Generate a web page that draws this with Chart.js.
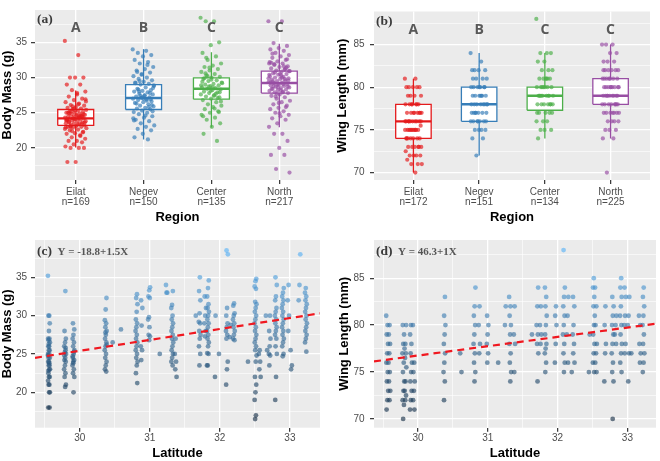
<!DOCTYPE html>
<html lang="en">
<head>
<meta charset="UTF-8">
<title>Body mass and wing length by region and latitude</title>
<script src="https://cdn.jsdelivr.net/npm/chart.js"></script>
<style>
  body { margin: 0; background: #fff; }
  .wrap { position: relative; width: 660px; height: 461px; }
  canvas { position: absolute; }
</style>
</head>
<body>
<div class="wrap">
  <canvas id="cA" width="330" height="225" style="left:0;top:0"></canvas>
  <canvas id="cB" width="330" height="225" style="left:330px;top:0"></canvas>
  <canvas id="cC" width="330" height="236" style="left:0;top:225px"></canvas>
  <canvas id="cD" width="330" height="236" style="left:330px;top:225px"></canvas>
</div>
<script>
// ---- data ----
const regions = ['Eilat', 'Negev', 'Center', 'North'];
const regionColors = ['#E41A1C', '#377EB8', '#4DAF4A', '#984EA3'];
const nMass = [169, 150, 135, 217];
const nWing = [172, 151, 134, 225];
const lettersMass = ['A', 'B', 'C', 'C'];
const lettersWing = ['A', 'B', 'C', 'C'];

// box stats: [lower whisker, Q1, median, Q3, upper whisker]
const massBox = [[20.05, 23.2, 24.2, 25.46, 28.17], [21.2, 25.46, 27.1, 29.0, 34.04], [22.9, 26.93, 28.4, 29.95, 33.6], [22.95, 27.8, 29.22, 30.92, 34.82]];
const wingBox = [[70, 74, 76, 78, 81], [72, 76, 78, 80, 84], [74, 77.3, 79, 80, 84], [74, 78, 79, 81, 85]];

const massEilat = [35.2, 33.2, 30, 30, 30, 29, 29, 28.2, 28, 27.6, 27.3, 27, 26.8, 26.5, 26.3, 26.1, 26, 25.8, 25.7, 25.6, 25.5, 25.4, 25.3, 25.2, 25.1, 25, 25, 24.9, 24.8, 24.7, 24.6, 24.5, 24.5, 24.4, 24.3, 24.3, 24.2, 24.2, 24.1, 24, 24, 23.9, 23.8, 23.8, 23.7, 23.6, 23.5, 23.5, 23.4, 23.3, 23.2, 23.1, 23, 23, 22.9, 22.8, 22.6, 22.5, 22.3, 22.1, 22, 21.8, 21.5, 21.3, 21, 21, 20.8, 20.5, 20.2, 20, 20, 20, 18, 18, 24.6, 25.9, 26.6, 23.3, 24.9, 22.2,
  24.1, 23.9, 24.4, 25.2, 23.6, 24.7, 25.0, 23.4, 24.2, 22.7, 26.2, 23.1, 24.8, 25.3, 24.0, 21.7, 22.4, 26.9, 27.8, 23.7, 24.5, 25.6, 22.9, 24.3, 23.0];
const massNegev = [34, 33.8, 33.5, 33.2, 33, 32.5, 32.2, 32, 31.5, 31.2, 31, 30.7, 30.5, 30.2, 30, 29.8, 29.6, 29.4, 29.2, 29.1, 29, 28.8, 28.6, 28.4, 28.2, 28.1, 28, 27.9, 27.7, 27.6, 27.4, 27.3, 27.2, 27.1, 27, 26.9, 26.8, 26.6, 26.5, 26.4, 26.2, 26, 25.9, 25.7, 25.6, 25.5, 25.3, 25.1, 25, 24.8, 24.5, 24.3, 24, 23.8, 23.5, 23.2, 23, 22.7, 22.5, 22, 21.5, 21.2, 29.5, 28.5, 27.5, 26.3, 27.8, 30.4, 24.2, 26.7,
  28.3, 26.1, 27.0, 29.3, 25.8, 27.4, 28.9, 24.6, 30.8, 26.9, 27.2, 23.9, 31.8, 28.0, 25.2];
const massCenter = [38.5, 38, 38, 35, 34.6, 33.5, 33, 32.5, 32, 31.7, 31.5, 31.2, 31, 30.8, 30.5, 30.3, 30.1, 30, 29.8, 29.6, 29.5, 29.3, 29.1, 29, 28.9, 28.8, 28.6, 28.5, 28.4, 28.3, 28.2, 28, 27.9, 27.8, 27.6, 27.5, 27.3, 27.2, 27, 26.8, 26.5, 26.2, 26, 25.8, 25.5, 25.2, 25, 24.7, 24.3, 24, 23.5, 23, 22, 21, 28.7, 29.2, 27.4, 30.6, 25.1,
  28.1, 29.4, 27.7, 30.2, 26.6, 28.6, 29.9, 27.1, 31.4, 28.9, 25.6, 32.8, 27.9, 29.7, 24.5];
const massNorth = [38, 38, 34.9, 34.5, 34.2, 34, 33.8, 33.5, 33.2, 33, 32.8, 32.5, 32.3, 32, 32, 31.8, 31.6, 31.5, 31.3, 31.1, 31, 30.9, 30.8, 30.6, 30.5, 30.4, 30.2, 30.1, 30, 29.9, 29.8, 29.7, 29.6, 29.5, 29.4, 29.3, 29.2, 29.1, 29, 28.9, 28.8, 28.7, 28.6, 28.5, 28.4, 28.3, 28.2, 28.1, 28, 27.9, 27.8, 27.6, 27.4, 27.2, 27, 26.7, 26.5, 26.2, 26, 25.7, 25.5, 25.2, 25, 24.7, 24.5, 24.2, 24, 23.5, 23, 22, 22, 21, 20, 19, 19, 17, 16.5, 30.3, 29.45, 31.4, 28.6, 32.2, 29.05, 30.7,
  29.6, 30.5, 28.4, 31.2, 27.7, 29.9, 30.0, 28.8, 32.6, 26.4, 29.3, 31.6, 27.3, 30.9, 28.2, 33.4, 25.8, 29.0, 30.4, 27.9, 31.9, 28.7, 24.9, 32.1, 29.8];

const wingEilat = [81, 81, 80, 80, 80, 80, 80, 79, 79, 79, 79, 78, 78, 78, 78, 78, 77, 77, 77, 77, 77, 77, 76, 76, 76, 76, 76, 76, 76, 75.5, 75, 75, 75, 75, 75, 75, 75, 74, 74, 74, 74, 74, 73, 73, 73, 73, 73, 72.5, 72, 72, 72, 72, 71.5, 71, 71, 71, 70, 76, 77, 75, 74, 78, 75, 76, 77, 74, 73, 78, 76, 75];
const wingNegev = [84, 83, 82, 82, 82, 82, 81, 81, 81, 80, 80, 80, 80, 80, 79, 79, 79, 79, 79, 78, 78, 78, 78, 78, 78, 77, 77, 77, 77, 77, 76, 76, 76, 76, 76, 75, 75, 75, 75, 74, 74, 72, 78, 79, 77, 80, 76, 78, 79, 77, 76, 80, 81];
const wingCenter = [88, 84, 84, 84, 83, 83, 82, 82, 82, 81, 81, 81, 81, 80, 80, 80, 80, 80, 79, 79, 79, 79, 79, 79, 78, 78, 78, 78, 78, 77, 77, 77, 77, 76, 76, 76, 75, 75, 75, 74, 79, 80, 78, 81, 79, 78, 80, 77, 81, 79];
const wingNorth = [85, 85, 85, 84, 84, 83, 83, 83, 82, 82, 82, 82, 81, 81, 81, 81, 81, 80, 80, 80, 80, 80, 80, 79, 79, 79, 79, 79, 79, 78, 78, 78, 78, 78, 78, 77, 77, 77, 77, 77, 76, 76, 76, 76, 75, 75, 75, 74, 74, 70, 79, 80, 81, 78, 82, 77, 79, 80, 78, 81, 82, 77, 79, 80];

// latitude columns and the body-mass values at each
const latMass = [29.56, 29.79, 29.91, 30.37, 30.47, 30.6, 30.81, 30.88, 30.99, 31.14, 31.24, 31.32, 31.37, 31.67, 31.71, 31.79, 31.83, 31.93, 31.95, 31.98, 32.1, 32.14, 32.2, 32.41, 32.51, 32.57, 32.67, 32.71, 32.8, 32.9, 32.98, 33.02, 33.14, 33.23];
const massAtLat = [
  [35.2, 30, 30, 29, 28, 27, 27, 26.8, 26.5, 26, 26, 25.5, 25.5, 25, 25, 24.5, 24.5, 24, 24, 23.5, 23.5, 23, 23, 22.5, 22, 22, 21.5, 21, 21, 20, 20, 18, 18, 26.3, 24.8, 23.8, 22.8],
  [33.2, 28, 27, 26.5, 26, 25.5, 25.2, 25, 24.5, 24.2, 24, 23.5, 23, 22.5, 22, 21, 20.7, 24.8, 25.8],
  [29, 28.2, 27.5, 27, 26.5, 26, 25.5, 25, 24.5, 24.2, 24, 23.5, 23, 22.5, 22, 20, 24.7, 25.3, 23.8],
  [32.3, 30.8, 29.4, 29, 28.5, 28, 27.5, 27, 26.5, 26, 25.5, 25, 24.5, 24, 23.5, 23, 22.7, 27.8, 26.2],
  [26.5],
  [28.2],
  [32.8, 32.3, 31.5, 30.5, 29.5, 29, 28.5, 28, 27.5, 27, 26.5, 26, 25.5, 25, 24.5, 24, 23.5, 22.5, 21.2],
  [32, 31, 28.7, 26, 25.5, 24.2],
  [33.7, 33.3, 32.5, 32.3, 29.8, 29.5, 28.5, 27.5, 27.3, 26.8],
  [25],
  [34, 33, 33],
  [33.2, 31.4, 31, 30, 29.5, 29, 28.5, 28, 27.5, 27, 26.5, 26, 25.5, 25, 24.5, 24, 23.5],
  [27, 25, 24, 23, 22],
  [30],
  [35, 33.2, 32, 30.3, 29.2, 29, 28, 27.5, 27, 26, 25, 23.5],
  [32.5, 31, 30, 29, 28, 27.3],
  [34.6, 33.6, 32.5, 31.5, 31, 30.5, 30, 29.5, 29, 28.5, 28, 27.5, 27, 26.5, 26, 25.1, 25, 23.5, 23.5],
  [22],
  [30],
  [25],
  [38.5, 38, 31, 30, 29, 28.5, 28, 27.5, 27, 24, 23, 21],
  [28.8, 27.2],
  [31.6, 31.3, 30.3, 30, 29.5, 29, 28.5, 28, 27.5, 27, 26.8],
  [24],
  [34.8, 34.5, 33.8, 33.5, 31.8, 31.5, 31, 30.5, 30, 29.5, 29, 28.5, 28, 27.5, 27, 26.5, 26, 25.5, 24.8, 24, 22, 21, 20, 19, 17, 16.5],
  [25.5, 25, 24, 23, 22],
  [30, 25.5],
  [30, 28, 27, 26, 25, 24.8, 23.5],
  [35, 34, 32.5, 32, 31, 30.5, 30, 29.5, 29, 28.5, 28, 27.5, 27, 26, 25, 22, 19],
  [33.6, 33, 32.5, 32, 31.5, 31, 30.5, 30, 29.5, 29, 28.5, 28, 27.5, 27, 26.5, 26, 25, 24.7],
  [34, 32, 30, 28],
  [25.5, 23.5, 23],
  [38, 34, 32],
  [33.6, 33, 32.5, 32, 31.5, 31, 30.5, 30, 29.5, 29, 28.5, 28, 27.5, 27, 26.5, 25.3]
];

// latitude columns and the wing-length values at each
const latWing = [29.56, 29.59, 29.79, 29.82, 29.9, 29.94, 30.38, 30.61, 30.81, 30.88, 31.0, 31.14, 31.26, 31.32, 31.38, 31.64, 31.71, 31.76, 31.83, 31.97, 32.09, 32.14, 32.2, 32.23, 32.45, 32.52, 32.55, 32.68, 32.79, 32.83, 32.91, 32.97, 33.02, 33.06, 33.18, 33.23];
const wingAtLat = [
  [81, 80, 79, 78, 77, 76, 75, 74, 73, 72, 71],
  [80, 79, 78, 77, 76, 75, 74, 73, 72],
  [80, 79, 78, 77, 76, 75, 74, 73, 72, 71.5, 70],
  [80, 78, 77.5, 77, 76.5, 75.5, 74, 73, 72.5, 72],
  [80, 79, 78, 77, 76, 75, 74, 73, 72, 71],
  [80, 76, 75, 74, 73, 72, 71],
  [83, 81, 80, 79, 78, 77, 76, 75, 74, 72],
  [77, 75],
  [84, 82, 81, 80, 79, 78, 77, 76, 75, 74],
  [82, 80, 78, 77],
  [81, 80, 79, 78, 77, 76],
  [76],
  [82, 80],
  [83, 82, 81, 80, 79, 78, 77, 76, 75, 74],
  [82, 79, 78, 75],
  [79],
  [84, 82, 80, 79, 78, 77, 74],
  [82, 80, 79, 78],
  [84, 83, 82, 81, 80, 79, 78, 77.5, 77, 76, 75],
  [82, 81, 80, 78, 76],
  [88, 84, 83, 82, 81, 80, 79, 78, 77, 76, 75],
  [83, 81, 79, 76],
  [75],
  [83, 82, 80, 79, 78, 77, 76],
  [79, 75],
  [85, 84, 83, 82, 81, 80, 79, 78, 77, 76, 75],
  [84, 82, 80, 78, 77, 76, 75],
  [82, 80, 78, 77, 74],
  [83, 82, 81, 80, 79, 78, 77, 76, 75, 74, 70],
  [81, 80, 79, 78],
  [85, 84, 83, 82, 81, 80, 79, 78, 77, 76, 75],
  [84, 83, 81, 80, 78, 77],
  [83, 81, 80, 77, 74],
  [77],
  [81, 80, 78, 77, 76],
  [84, 83, 82, 81, 80, 79, 78, 77, 76, 75]
];

// regression lines as drawn: [intercept, slope]
const fitMass = [-17.34, 1.425];
const fitWing = [46.97, 0.993];
const eqMass = 'Y = -18.8+1.5X';
const eqWing = 'Y = 46.3+1X';

// tick values
const massMajor = [20, 25, 30, 35];
const massMinor = [17.5, 22.5, 27.5, 32.5, 37.5];
const wingMajor = [70, 75, 80, 85];
const wingMinor = [72.5, 77.5, 82.5, 87.5];
const latMajor = [30, 31, 32, 33];
const latMinor = [29.5, 30.5, 31.5, 32.5];

// ---- helpers ----
Chart.defaults.font.family = '"Liberation Sans", Arial, sans-serif';
Chart.defaults.color = '#4D4D4D';

function rgba(hex, a) {
  const n = parseInt(hex.slice(1), 16);
  return `rgba(${n >> 16},${(n >> 8) & 255},${n & 255},${a})`;
}
function blueScale(v, lo, hi, a) {
  const t = Math.min(1, Math.max(0, (v - lo) / (hi - lo)));
  const c0 = [19, 43, 67], c1 = [86, 177, 247];
  return `rgba(${c0.map((c, i) => Math.round(c + (c1[i] - c) * t)).join(',')},${a})`;
}
// spread points sideways in a fixed pattern (display only)
const spread = k => ((k * 0.6180339887) % 1) - 0.5;

const panelBg = {
  id: 'panelBg',
  beforeDraw(chart) {
    const { ctx, chartArea: a } = chart;
    ctx.save();
    ctx.fillStyle = '#EBEBEB';
    ctx.fillRect(a.left, a.top, a.right - a.left, a.bottom - a.top);
    ctx.restore();
  }
};

const tags = {
  id: 'tags',
  afterDatasetsDraw(chart, args, o) {
    const { ctx, chartArea: a, scales: { x, y } } = chart;
    ctx.save();
    ctx.textBaseline = 'middle';
    ctx.textAlign = 'left';
    ctx.fillStyle = '#3a3a3a';
    ctx.font = 'bold 13.5px "Liberation Serif", serif';
    ctx.fillText(o.tag, a.left + 2, a.top + o.tagDy);
    if (o.eq) {
      const w = ctx.measureText(o.tag).width;
      ctx.font = 'bold 11px "Liberation Serif", serif';
      ctx.fillStyle = '#555555';
      ctx.fillText(o.eq, a.left + 2 + w + 5.5, a.top + o.tagDy);
    }
    if (o.letters) {
      ctx.font = 'bold 14px "Open Sans", sans-serif';
      ctx.fillStyle = '#595959';
      ctx.textAlign = 'center';
      o.letters.forEach((t, i) => ctx.fillText(t, x.getPixelForValue(i + 1), y.getPixelForValue(o.letterY)));
    }
    ctx.restore();
  }
};

function yAxis(o) {
  const all = o.major.concat(o.minor).sort((a, b) => a - b);
  return {
    type: 'linear', position: 'left', min: o.min, max: o.max,
    afterBuildTicks: s => { s.ticks = all.map(v => ({ value: v })); },
    afterFit: s => { s.width = o.width; },
    ticks: { font: { size: 10 }, color: '#4D4D4D', padding: o.pad, callback: v => o.major.includes(v) ? String(v) : '' },
    grid: {
      color: '#FFFFFF',
      lineWidth: c => o.major.includes(c.tick.value) ? 1.3 : 0.6,
      tickColor: c => o.major.includes(c.tick.value) ? '#333333' : 'rgba(0,0,0,0)',
      tickLength: 4, tickWidth: 1.2
    },
    border: { display: false },
    title: { display: true, text: o.title, color: '#000', font: { size: 13, weight: 'bold' }, padding: { top: o.titlePad, bottom: 0 } }
  };
}

function xAxis(o) {
  const all = o.major.concat(o.minor).sort((a, b) => a - b);
  return {
    type: 'linear', position: 'bottom', min: o.min, max: o.max,
    afterBuildTicks: s => { s.ticks = all.map(v => ({ value: v })); },
    afterFit: s => { s.height = o.height; },
    ticks: { font: { size: 10, lineHeight: 1.0 }, color: '#4D4D4D', padding: o.pad, maxRotation: 0, autoSkip: false, callback: o.label },
    grid: {
      color: '#FFFFFF',
      lineWidth: c => o.major.includes(c.tick.value) ? 1.3 : 0.6,
      tickColor: c => o.major.includes(c.tick.value) ? '#333333' : 'rgba(0,0,0,0)',
      tickLength: 4, tickWidth: 1.2
    },
    border: { display: false },
    title: { display: true, text: o.title, color: '#000', font: { size: 13, weight: 'bold' }, padding: { top: 0, bottom: 0 } }
  };
}

function boxSets(stats, hw) {
  const out = [];
  stats.forEach((s, i) => {
    const c = i + 1, col = regionColors[i];
    const [lo, q1, med, q3, hi] = s;
    const line = { type: 'line', pointRadius: 0, borderColor: col, borderWidth: 1.3, fill: false, tension: 0 };
    out.push(Object.assign({}, line, { data: [{ x: c, y: q3 }, { x: c, y: hi }], order: 4 }));
    out.push(Object.assign({}, line, { data: [{ x: c, y: lo }, { x: c, y: q1 }], order: 4 }));
    out.push(Object.assign({}, line, {
      data: [{ x: c - hw, y: q1 }, { x: c + hw, y: q1 }, { x: c + hw, y: q3 }, { x: c - hw, y: q3 }, { x: c - hw, y: q1 }],
      backgroundColor: '#FFFFFF', fill: 'shape', order: 3
    }));
    out.push(Object.assign({}, line, { data: [{ x: c - hw, y: med }, { x: c + hw, y: med }], borderWidth: 2.4, order: 2 }));
  });
  return out;
}

function jitterSets(groups, hw) {
  return groups.map((vals, i) => ({
    type: 'scatter',
    data: vals.map((v, k) => ({ x: i + 1 + spread(k) * 2 * hw, y: v })),
    pointRadius: 2.1, borderWidth: 0,
    backgroundColor: rgba(regionColors[i], 0.68),
    order: 0
  }));
}

function columnSet(lats, cols, lo, hi) {
  const pts = [];
  lats.forEach((lat, j) => cols[j].forEach((v, k) => pts.push({ x: lat + spread(k + j) * 0.03, y: v })));
  return {
    type: 'scatter', data: pts, pointRadius: 2.4, borderWidth: 0,
    backgroundColor: c => blueScale(c.raw.y, lo, hi, 0.62),
    order: 1
  };
}

function fitSet(fit, x0, x1) {
  return {
    type: 'line', data: [{ x: x0, y: fit[0] + fit[1] * x0 }, { x: x1, y: fit[0] + fit[1] * x1 }],
    borderColor: '#F01820', borderWidth: 2.2, borderDash: [7, 5], pointRadius: 0, fill: false, order: 0
  };
}

function build(id, datasets, scales, pad, tagOpts) {
  return new Chart(document.getElementById(id), {
    type: 'scatter',
    data: { datasets },
    options: {
      responsive: false, animation: false, events: [], devicePixelRatio: 1,
      layout: { padding: pad },
      scales,
      plugins: { legend: { display: false }, tooltip: { enabled: false }, tags: tagOpts }
    },
    plugins: [panelBg, tags]
  });
}

const regionLabel = n => v => [regions[Math.round(v) - 1], 'n=' + n[Math.round(v) - 1]];
const majorLabel = major => v => major.includes(v) ? String(v) : '';

// (a)
build('cA',
  jitterSets([massEilat, massNegev, massCenter, massNorth], 0.16).concat(boxSets(massBox, 0.265)),
  {
    x: xAxis({ min: 0.4, max: 4.6, major: [1, 2, 3, 4], minor: [], height: 45, pad: 3.5, title: 'Region', label: regionLabel(nMass) }),
    y: yAxis({ min: 15.44, max: 39.6, major: massMajor, minor: massMinor, width: 35, pad: 4, titlePad: 0, title: 'Body Mass (g)' })
  },
  { left: 0, right: 10, top: 5, bottom: 0 },
  { tag: '(a)', tagDy: 10, letters: lettersMass, letterY: 37 });

// (b)
build('cB',
  jitterSets([wingEilat, wingNegev, wingCenter, wingNorth], 0.13).concat(boxSets(wingBox, 0.27)),
  {
    x: xAxis({ min: 0.4, max: 4.6, major: [1, 2, 3, 4], minor: [], height: 45, pad: 3.5, title: 'Region', label: regionLabel(nWing) }),
    y: yAxis({ min: 69.13, max: 88.87, major: wingMajor, minor: wingMinor, width: 44, pad: 5.5, titlePad: 5, title: 'Wing Length (mm)' })
  },
  { left: 0, right: 10, top: 5, bottom: 0 },
  { tag: '(b)', tagDy: 10, letters: lettersWing, letterY: 86.7 });

// (c)
build('cC',
  [fitSet(fitMass, 29.36, 33.43), columnSet(latMass, massAtLat, 16.5, 38.5)],
  {
    x: xAxis({ min: 29.36, max: 33.43, major: latMajor, minor: latMinor, height: 33.3, pad: 2, title: 'Latitude', label: majorLabel(latMajor) }),
    y: yAxis({ min: 15.38, max: 39.87, major: massMajor, minor: massMinor, width: 35, pad: 4, titlePad: 0, title: 'Body Mass (g)' })
  },
  { left: 0, right: 10, top: 15, bottom: 0 },
  { tag: '(c)', tagDy: 11.7, eq: eqMass });

// (d)
build('cD',
  [fitSet(fitWing, 29.37, 33.41), columnSet(latWing, wingAtLat, 70, 88)],
  {
    x: xAxis({ min: 29.37, max: 33.41, major: latMajor, minor: latMinor, height: 33.3, pad: 2, title: 'Latitude', label: majorLabel(latMajor) }),
    y: yAxis({ min: 69.07, max: 89.07, major: wingMajor, minor: wingMinor, width: 44, pad: 5.5, titlePad: 7, title: 'Wing Length (mm)' })
  },
  { left: 0, right: 2, top: 15, bottom: 0 },
  { tag: '(d)', tagDy: 11.7, eq: eqWing });
</script>
</body>
</html>
